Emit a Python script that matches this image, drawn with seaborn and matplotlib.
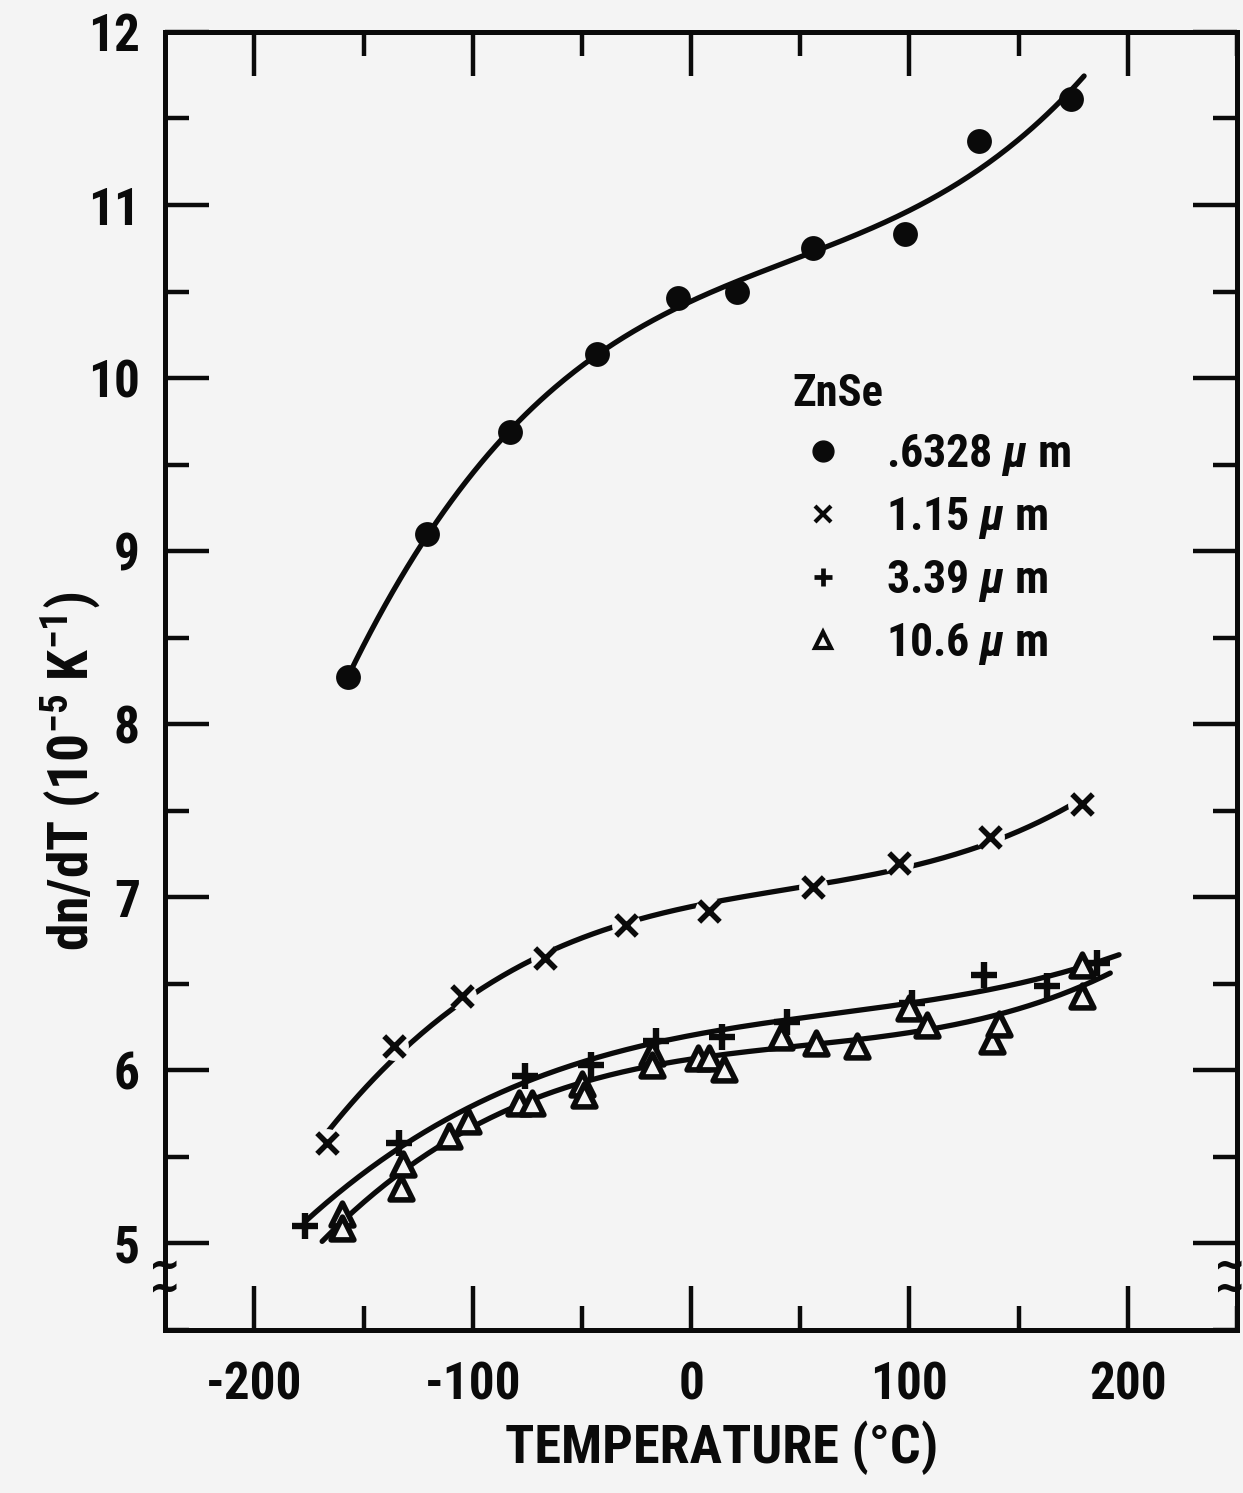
import numpy as np
import pandas as pd
import matplotlib
matplotlib.use("Agg")
import matplotlib.pyplot as plt
import matplotlib.transforms as mtransforms
from matplotlib import font_manager as fm
from matplotlib.ticker import MultipleLocator
from matplotlib.lines import Line2D
import seaborn as sns

# ---- measured dn/dT of ZnSe (10^-5 K^-1) versus temperature (deg C) ----
temp_0633 = [-157, -121, -83, -43, -6, 21, 56, 98, 132, 174]
dndt_0633 = [8.27, 9.10, 9.69, 10.14, 10.46, 10.50, 10.75, 10.83, 11.37, 11.61]

temp_115 = [-167, -136, -105, -67, -30, 8, 56, 95, 137, 179]
dndt_115 = [5.58, 6.14, 6.43, 6.65, 6.84, 6.92, 7.06, 7.20, 7.35, 7.54]

temp_339 = [-177, -134, -76, -46, -16, 14, 44, 101, 134, 163, 186]
dndt_339 = [5.10, 5.58, 5.97, 6.03, 6.17, 6.19, 6.28, 6.39, 6.55, 6.49, 6.62]

temp_106 = [-160, -160, -133, -132, -111, -102, -79, -73, -50, -49, -18, -18,
            3, 8, 15, 41, 57, 76, 100, 108, 138, 141, 179, 179]
dndt_106 = [5.17, 5.09, 5.32, 5.46, 5.62, 5.71, 5.81, 5.81, 5.92, 5.86, 6.10, 6.03,
            6.07, 6.07, 6.01, 6.19, 6.16, 6.14, 6.36, 6.26, 6.17, 6.27, 6.43, 6.61]

# temperature span covered by each smooth fit curve, and polynomial degree
fit_span = {"0633": (-157, 180), "115": (-166, 179), "339": (-177, 196), "106": (-169, 192)}
fit_deg = {"0633": 3, "115": 3, "339": 3, "106": 3}

legend_labels = [r".6328 $\mu$ m", r"1.15 $\mu$ m", r"3.39 $\mu$ m", r"10.6 $\mu$ m"]
x_ticks = [-200, -100, 0, 100, 200]
y_ticks = [5, 6, 7, 8, 9, 10, 11, 12]

BG = "#f4f4f4"
INK = "#0a0a0a"


def pick_condensed_bold():
    """Return (family, stretch) of a bold condensed face if one is installed."""
    preferred = ["Roboto Condensed", "Liberation Sans Narrow", "Open Sans Condensed",
                 "Noto Sans", "Noto Sans Condensed", "Open Sans", "Roboto"]
    cands = [f for f in fm.fontManager.ttflist
             if f.stretch != "normal" and "condensed" in str(f.stretch)
             and (isinstance(f.weight, int) and f.weight >= 600 or f.weight in ("bold", "heavy", "black"))
             and f.style == "normal"]
    for name in preferred:
        for f in cands:
            if f.name == name:
                return f.name, f.stretch
    for f in cands:
        if "CJK" not in f.name and "Mono" not in f.name:
            return f.name, f.stretch
    return "Liberation Sans", "normal"


FAM, STRETCH = pick_condensed_bold()

sns.set_theme(style="ticks")
plt.rcParams["font.family"] = [FAM, "Liberation Sans", "DejaVu Sans"]
plt.rcParams["font.stretch"] = STRETCH
plt.rcParams["font.weight"] = "bold"
plt.rcParams["text.color"] = INK
plt.rcParams["axes.labelcolor"] = INK
plt.rcParams["xtick.color"] = INK
plt.rcParams["ytick.color"] = INK
plt.rcParams["axes.unicode_minus"] = False
plt.rcParams["mathtext.fontset"] = "custom"
plt.rcParams["mathtext.rm"] = f"{FAM}:bold"
plt.rcParams["mathtext.bf"] = f"{FAM}:bold"
plt.rcParams["mathtext.it"] = f"{FAM}:bold:italic"

fig = plt.figure(figsize=(12.43, 14.93), dpi=100, facecolor=BG)
ax = fig.add_axes([0.1327, 0.1092, 0.8624, 0.8694], facecolor=BG)

series = [
    ("0633", temp_0633, dndt_0633),
    ("115", temp_115, dndt_115),
    ("339", temp_339, dndt_339),
    ("106", temp_106, dndt_106),
]

# smooth least-squares curves through each data set
for key, t, v in series:
    coef = np.polyfit(t, v, fit_deg[key])
    lo, hi = fit_span[key]
    grid = np.linspace(lo, hi, 300)
    curve = pd.DataFrame({"T": grid, "v": np.polyval(coef, grid)})
    sns.lineplot(data=curve, x="T", y="v", ax=ax, color=INK, lw=3.8,
                 sort=False, estimator=None, zorder=2)

# data markers
sns.scatterplot(x=temp_0633, y=dndt_0633, ax=ax, marker="o", s=320,
                color=INK, linewidth=0, zorder=5)
sns.scatterplot(x=temp_115, y=dndt_115, ax=ax, marker="o", s=430,
                color=BG, linewidth=0, zorder=4)
sns.scatterplot(x=temp_115, y=dndt_115, ax=ax, marker="x", s=220,
                color=INK, linewidth=4.0, zorder=5)
sns.scatterplot(x=temp_339, y=dndt_339, ax=ax, marker="+", s=330,
                color=INK, linewidth=4.6, zorder=5)
sns.scatterplot(x=temp_106, y=dndt_106, ax=ax, marker="^", s=270,
                color=BG, edgecolor=INK, linewidth=4.0, zorder=5)

# axes frame and ticks
ax.set_xlim(-241, 250)
ax.set_ylim(4.5, 12.0)
ax.set_xticks(x_ticks)
ax.set_xticklabels([str(t) for t in x_ticks])
ax.set_yticks(y_ticks)
ax.set_yticklabels([str(t) for t in y_ticks])
ax.xaxis.set_minor_locator(MultipleLocator(50))
ax.yaxis.set_minor_locator(MultipleLocator(0.5))
for sp in ax.spines.values():
    sp.set_visible(True)
    sp.set_linewidth(3.6)
    sp.set_color(INK)
ax.tick_params(which="both", direction="in", top=True, right=True,
               color=INK, width=3.2)
ax.tick_params(which="major", length=32, pad=18, labelsize=37)
ax.tick_params(which="minor", length=17)
ax.tick_params(axis="x", which="major", pad=22)
for lab in ax.get_xticklabels() + ax.get_yticklabels():
    lab.set_fontweight("bold")
    lab.set_color(INK)

# axis break marks on the lower part of both vertical spines
brk = mtransforms.blended_transform_factory(ax.transAxes, ax.transData)
for xs in (0.0, 0.9935):
    ax.text(xs, 4.80, "~\n~", transform=brk, ha="center", va="center",
            multialignment="center", linespacing=0.42,
            fontsize=30, fontweight="bold", color=INK, clip_on=False,
            family="DejaVu Sans", zorder=6)

ax.set_xlabel("TEMPERATURE (\u00b0C)", fontsize=39, fontweight="bold", color=INK)
ax.xaxis.set_label_coords(0.519, -0.070)
ax.set_ylabel(r"dn/dT (10$^{-5}$ K$^{-1}$)", fontsize=40, fontweight="bold", color=INK)
ax.yaxis.set_label_coords(-0.058, 0.43)

# legend
handles = [
    Line2D([], [], ls="none", marker="o", ms=15, color=INK),
    Line2D([], [], ls="none", marker="x", ms=12, mew=3.0, color=INK),
    Line2D([], [], ls="none", marker="+", ms=13, mew=3.4, color=INK),
    Line2D([], [], ls="none", marker="^", ms=11, mew=3.0, mfc=BG, mec=INK),
]
leg = ax.legend(handles, legend_labels, title="ZnSe", loc="upper left",
                bbox_to_anchor=(0.585, 0.737), frameon=False, alignment="left",
                fontsize=33, title_fontsize=32, handlelength=1.35,
                handletextpad=0.7, labelspacing=0.37, borderpad=0,
                borderaxespad=0)
leg.get_title().set_fontweight("bold")
leg.get_title().set_color(INK)
for txt in leg.get_texts():
    txt.set_fontweight("bold")
    txt.set_color(INK)

fig.savefig("out.png", dpi=100, facecolor=BG)
